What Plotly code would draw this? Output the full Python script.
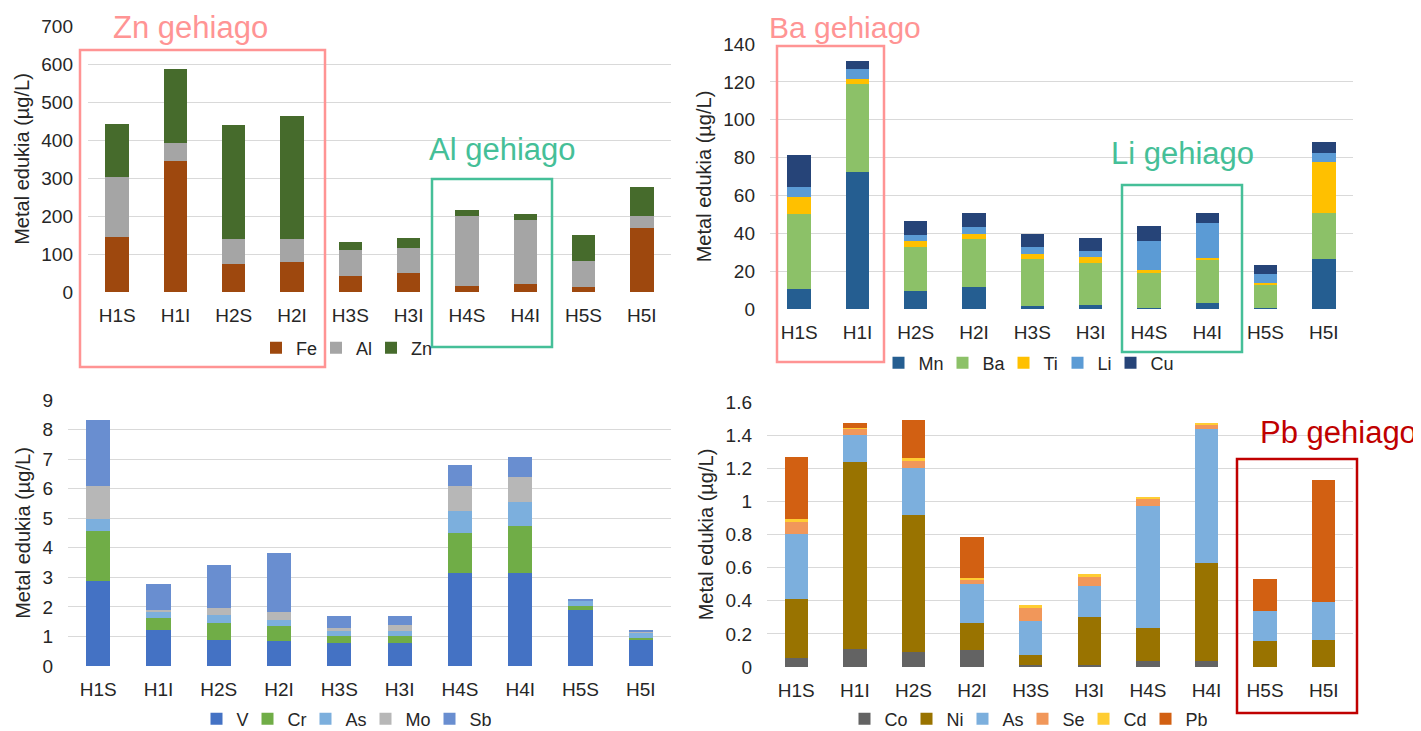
import plotly.graph_objects as go

# The page body has an 8px default margin, so the figure is drawn 8px in from the window edge.
OFF = 8
W, H = 1421 - OFF, 731 - OFF
FONT = "Liberation Sans, Arial, sans-serif"
TXT = "#262626"
GRID = "#D9D9D9"

samples = ["H1S", "H1I", "H2S", "H2I", "H3S", "H3I", "H4S", "H4I", "H5S", "H5I"]

# Panel 1 (top-left)
fe = [145, 345, 74, 80, 43, 50, 16, 21, 13, 168]
al = [157, 47, 66, 59, 68, 67, 185, 168, 68, 33]
zn = [140, 195, 300, 325, 21, 25, 15, 16, 69, 76]

# Panel 2 (top-right)
mn = [10.6, 72.2, 9.3, 11.8, 1.8, 2.3, 0.5, 3.0, 0.5, 26.2]
ba = [39.6, 46.7, 23.5, 25.0, 24.4, 21.8, 18.7, 23.1, 12.2, 24.3]
ti = [9.0, 2.6, 3.0, 3.0, 2.8, 3.4, 1.4, 1.0, 1.2, 27.0]
li = [5.2, 5.1, 3.1, 3.5, 3.9, 3.1, 15.3, 18.5, 4.4, 4.9]
cu = [17.0, 4.2, 7.7, 7.2, 6.7, 6.9, 7.9, 5.3, 5.1, 5.6]

# Panel 3 (bottom-left)
v = [2.87, 1.22, 0.87, 0.84, 0.78, 0.78, 3.16, 3.16, 1.89, 0.89]
cr = [1.71, 0.42, 0.58, 0.50, 0.23, 0.25, 1.35, 1.58, 0.14, 0.07]
as3 = [0.40, 0.19, 0.28, 0.23, 0.19, 0.16, 0.75, 0.80, 0.17, 0.19]
mo = [1.12, 0.07, 0.24, 0.26, 0.10, 0.21, 0.82, 0.87, 0.02, 0.02]
sb = [2.22, 0.86, 1.44, 1.99, 0.39, 0.29, 0.71, 0.66, 0.05, 0.06]

# Panel 4 (bottom-right)
co = [0.056, 0.107, 0.093, 0.105, 0.010, 0.012, 0.036, 0.034, 0.0, 0.0]
ni = [0.357, 1.132, 0.824, 0.159, 0.063, 0.292, 0.198, 0.595, 0.159, 0.165]
as4 = [0.393, 0.164, 0.284, 0.238, 0.205, 0.184, 0.741, 0.810, 0.178, 0.228]
se = [0.072, 0.034, 0.040, 0.026, 0.081, 0.056, 0.043, 0.028, 0.0, 0.0]
cd = [0.015, 0.004, 0.021, 0.008, 0.014, 0.018, 0.003, 0.004, 0.0, 0.0]
pb = [0.375, 0.030, 0.230, 0.248, 0.0, 0.0, 0.0, 0.0, 0.195, 0.736]

panels = [
    dict(ax="", leg="legend", series=[("Fe", fe, "#9E480E"), ("Al", al, "#A5A5A5"), ("Zn", zn, "#466B2C")]),
    dict(ax="2", leg="legend2", series=[("Mn", mn, "#255E91"), ("Ba", ba, "#8CC168"), ("Ti", ti, "#FFC000"),
                                         ("Li", li, "#5B9BD5"), ("Cu", cu, "#264478")]),
    dict(ax="3", leg="legend3", series=[("V", v, "#4472C4"), ("Cr", cr, "#70AD47"), ("As", as3, "#7CAFDD"),
                                         ("Mo", mo, "#B7B7B7"), ("Sb", sb, "#698ED0")]),
    dict(ax="4", leg="legend4", series=[("Co", co, "#636363"), ("Ni", ni, "#997300"), ("As", as4, "#7CAFDD"),
                                         ("Se", se, "#F1975A"), ("Cd", cd, "#FFCD33"), ("Pb", pb, "#D26012")]),
]

# approximate Arial glyph widths (em) to keep legend entries compact
GLYPH = {"F": .611, "e": .556, "A": .667, "l": .222, "Z": .611, "n": .556, "M": .833, "B": .667, "a": .556,
         "T": .611, "i": .222, "L": .556, "C": .722, "u": .556, "V": .667, "r": .333, "s": .5, "o": .556,
         "S": .667, "b": .556, "N": .722, "d": .556, "P": .667}
LEG_SIZE = 18

def entry_w(name):
    w = sum(GLYPH.get(c, .556) for c in name) * LEG_SIZE
    return max(w - 6, 6)

fig = go.Figure()
for p in panels:
    for name, vals, col in p["series"]:
        fig.add_trace(go.Bar(
            x=samples, y=vals, name=name, marker=dict(color=col, line=dict(width=0)),
            xaxis="x" + p["ax"], yaxis="y" + p["ax"], legend=p["leg"], legendwidth=entry_w(name),
        ))

def fx(px):
    return (px - OFF) / W

def fy(py):
    return 1 - (py - OFF) / H

# plot areas in window pixels: (left, right, top, bottom)
areas = [(88, 671, 26, 292), (770, 1353, 44, 309), (68, 671, 400, 666), (767, 1353, 402, 667)]
ranges = [(0, 700, 100), (0, 140, 20), (0, 9, 1), (0, 1.6, 0.2)]

layout = dict(
    width=W, height=H, autosize=False, margin=dict(l=0, r=0, t=0, b=0, autoexpand=False),
    paper_bgcolor="white", plot_bgcolor="white", barmode="stack", bargap=0.6,
    font=dict(family=FONT, size=16, color=TXT), showlegend=True,
)
for i, ((l, r, t, b), (y0, y1, dt)) in enumerate(zip(areas, ranges)):
    s = "" if i == 0 else str(i + 1)
    layout["xaxis" + s] = dict(
        domain=[fx(l), fx(r)], anchor="y" + s, type="category", showgrid=False, showline=False,
        zeroline=False, ticks="", tickfont=dict(size=19, color=TXT), ticklabelstandoff=10,
        automargin=False,
    )
    layout["yaxis" + s] = dict(
        domain=[fy(b), fy(t)], anchor="x" + s, range=[y0, y1], dtick=dt, showgrid=True,
        gridcolor=GRID, gridwidth=1.3, zeroline=False, showline=False, ticks="",
        tickfont=dict(size=19, color=TXT), ticklabelstandoff=14, automargin=False,
        title=dict(text="Metal edukia (µg/L)", font=dict(size=20, color=TXT), standoff=6),
    )

leg_pos = [(344, 348), (1026, 363), (344, 719), (1026, 719)]
for i, (lx, ly) in enumerate(leg_pos):
    key = "legend" if i == 0 else "legend" + str(i + 1)
    layout[key] = dict(
        orientation="h", x=fx(lx), y=fy(ly), xanchor="center", yanchor="middle",
        xref="container", yref="container",
        font=dict(size=LEG_SIZE, color=TXT), bgcolor="rgba(0,0,0,0)", itemwidth=30,
        traceorder="normal", tracegroupgap=0,
    )

fig.update_layout(**layout)

# highlight boxes and labels
boxes = [
    ((80, 50, 325, 367), "#FF9494", "Zn gehiago", (190, 27), 31),
    ((432, 179, 552, 347), "#45BF98", "Al gehiago", (502, 150), 31),
    ((777, 46, 884, 362), "#FF9494", "Ba gehiago", (845, 27), 30),
    ((1122, 185, 1242, 352), "#45BF98", "Li gehiago", (1182, 154), 31),
    ((1237, 459, 1357, 713), "#C00000", "Pb gehiago", (1338, 432), 31),
]
for (x0, y0, x1, y1), col, label, (tx, ty), fs in boxes:
    fig.add_shape(type="rect", xref="paper", yref="paper", x0=fx(x0), x1=fx(x1), y0=fy(y1), y1=fy(y0),
                  line=dict(color=col, width=2.5), fillcolor="rgba(0,0,0,0)", layer="above")
    fig.add_annotation(xref="paper", yref="paper", x=fx(tx), y=fy(ty), text=label, showarrow=False,
                       xanchor="center", yanchor="middle", font=dict(family=FONT, size=fs, color=col))

fig.write_html("out.html")
